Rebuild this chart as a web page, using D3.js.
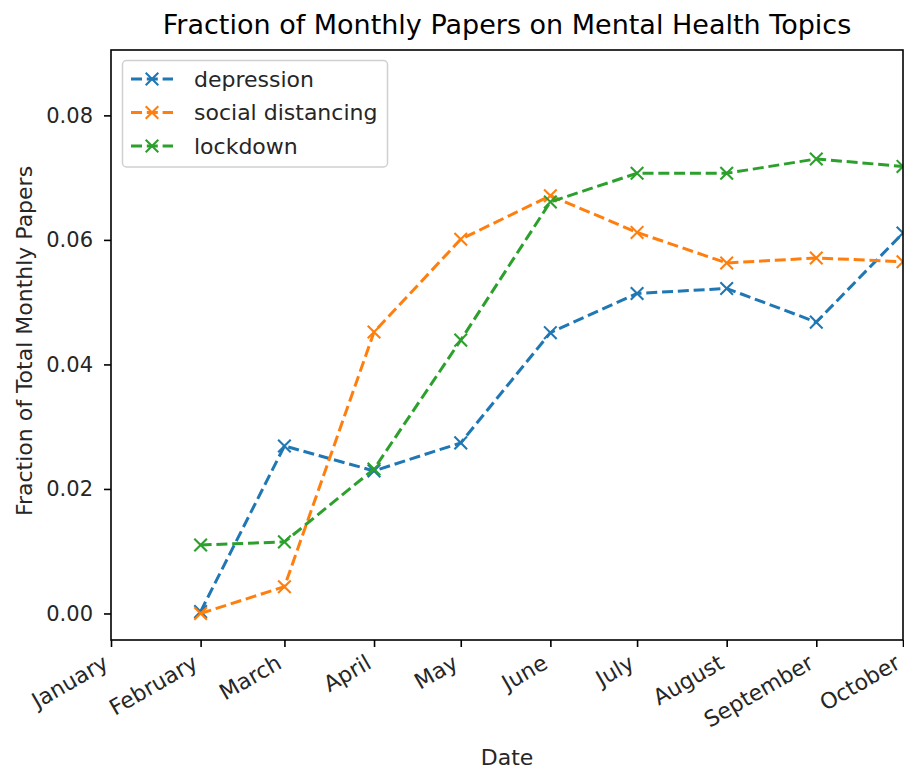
<!DOCTYPE html>
<html>
<head>
<meta charset="utf-8">
<script src="https://cdn.jsdelivr.net/npm/d3@7"></script>
<style>
  html, body { margin: 0; padding: 0; background: #fff; }
  svg { display: block; font-family: "DejaVu Sans", sans-serif; }
</style>
</head>
<body>
<svg id="chart" width="904" height="772"></svg>
<script>
// ---- data ----
const months = ["2020-02-01","2020-03-01","2020-04-01","2020-05-01","2020-06-01","2020-07-01","2020-08-01","2020-09-01","2020-10-01"];
const tickMonths = ["2020-01-01","2020-02-01","2020-03-01","2020-04-01","2020-05-01","2020-06-01","2020-07-01","2020-08-01","2020-09-01","2020-10-01"];
const tickLabels = ["January","February","March","April","May","June","July","August","September","October"];
const seriesNames = ["depression", "social distancing", "lockdown"];
const depression = [0.0003, 0.0269, 0.0229, 0.0274, 0.0451, 0.0514, 0.0522, 0.0468, 0.0611];
const socialDistancing = [0.0000, 0.0043, 0.0452, 0.0601, 0.0671, 0.0612, 0.0563, 0.0571, 0.0565];
const lockdown = [0.0110, 0.0115, 0.0232, 0.0439, 0.0661, 0.0707, 0.0707, 0.0730, 0.0718];
const yTicks = [0.00, 0.02, 0.04, 0.06, 0.08];
const colors = ["#1f77b4", "#ff7f0e", "#2ca02c"];

const parse = d3.timeParse("%Y-%m-%d");
const dates = months.map(parse);
const seriesValues = [depression, socialDistancing, lockdown];

const svg = d3.select("#chart");
const L = 111, R = 903, T = 50, B = 640;

const x = d3.scaleTime().domain([parse("2020-01-01"), parse("2020-10-01")]).range([L, R]);
const y = d3.scaleLinear().domain([-0.00426, 0.0905]).range([B, T]);

svg.append("defs").append("clipPath").attr("id", "clip")
  .append("rect").attr("x", L).attr("y", T).attr("width", R - L).attr("height", B - T);

// series
const line = d3.line().x((d, i) => x(dates[i])).y(d => y(d));
const plot = svg.append("g").attr("clip-path", "url(#clip)");
seriesValues.forEach((vals, s) => {
  plot.append("path").datum(vals)
    .attr("d", line)
    .attr("fill", "none")
    .attr("stroke", colors[s])
    .attr("stroke-width", 3)
    .attr("stroke-dasharray", "11,4.8");
  const m = 6.3;
  plot.selectAll(null).data(vals).enter().append("path")
    .attr("d", (d, i) => {
      const cx = x(dates[i]), cy = y(d);
      return `M${cx-m},${cy-m}L${cx+m},${cy+m}M${cx-m},${cy+m}L${cx+m},${cy-m}`;
    })
    .attr("stroke", colors[s])
    .attr("stroke-width", 2.1)
    .attr("fill", "none");
});

// spines
const spine = svg.append("g").attr("stroke", "#000").attr("stroke-width", 1.6).attr("fill", "none");
spine.append("rect").attr("x", L).attr("y", T).attr("width", R - L).attr("height", B - T);

// y axis
const yAxis = d3.axisLeft(y).tickValues(yTicks).tickFormat(d3.format(".2f")).tickSize(7).tickPadding(11);
const gy = svg.append("g").attr("transform", `translate(${L},0)`).call(yAxis);
gy.select(".domain").remove();
gy.selectAll(".tick line").attr("stroke", "#000").attr("stroke-width", 1.6);
gy.selectAll(".tick text").attr("font-size", "21px").attr("fill", "#262626")
  .attr("font-family", "DejaVu Sans");

// x axis
const xAxis = d3.axisBottom(x).tickValues(tickMonths.map(parse)).tickFormat((d, i) => tickLabels[i]).tickSize(7);
const gx = svg.append("g").attr("transform", `translate(0,${B})`).call(xAxis);
gx.select(".domain").remove();
gx.selectAll(".tick line").attr("stroke", "#000").attr("stroke-width", 1.6);
gx.selectAll(".tick text")
  .attr("font-size", "22px").attr("fill", "#262626")
  .attr("font-family", "DejaVu Sans")
  .attr("text-anchor", "end")
  .attr("y", 0).attr("dy", "0.75em")
  .attr("transform", "translate(-10,13) rotate(-30)");

// labels
svg.append("text").attr("x", (L + R) / 2).attr("y", 765).attr("text-anchor", "middle")
  .attr("font-size", "22px").attr("fill", "#262626").text("Date");
svg.append("text").attr("transform", `translate(32,${(T + B) / 2 - 4}) rotate(-90)`)
  .attr("text-anchor", "middle").attr("font-size", "22px").attr("fill", "#262626")
  .text("Fraction of Total Monthly Papers");
svg.append("text").attr("x", (L + R) / 2).attr("y", 34).attr("text-anchor", "middle")
  .attr("font-size", "27px").attr("fill", "#000").text("Fraction of Monthly Papers on Mental Health Topics");

// legend
const lg = svg.append("g");
lg.append("rect").attr("x", 122.5).attr("y", 60.5).attr("width", 265).attr("height", 106.5)
  .attr("rx", 4).attr("fill", "#fff").attr("fill-opacity", 0.8).attr("stroke", "#d0d0d0").attr("stroke-width", 1.5);
seriesNames.forEach((name, s) => {
  const cy = 79 + s * 33.5;
  lg.append("line").attr("x1", 131).attr("x2", 173).attr("y1", cy).attr("y2", cy)
    .attr("stroke", colors[s]).attr("stroke-width", 3).attr("stroke-dasharray", "11,4.8");
  const m = 6.3, cx = 152;
  lg.append("path").attr("d", `M${cx-m},${cy-m}L${cx+m},${cy+m}M${cx-m},${cy+m}L${cx+m},${cy-m}`)
    .attr("stroke", colors[s]).attr("stroke-width", 2.1);
  lg.append("text").attr("x", 194).attr("y", cy).attr("dy", "0.35em")
    .attr("font-size", "22px").attr("fill", "#262626").text(name);
});
</script>
</body>
</html>
